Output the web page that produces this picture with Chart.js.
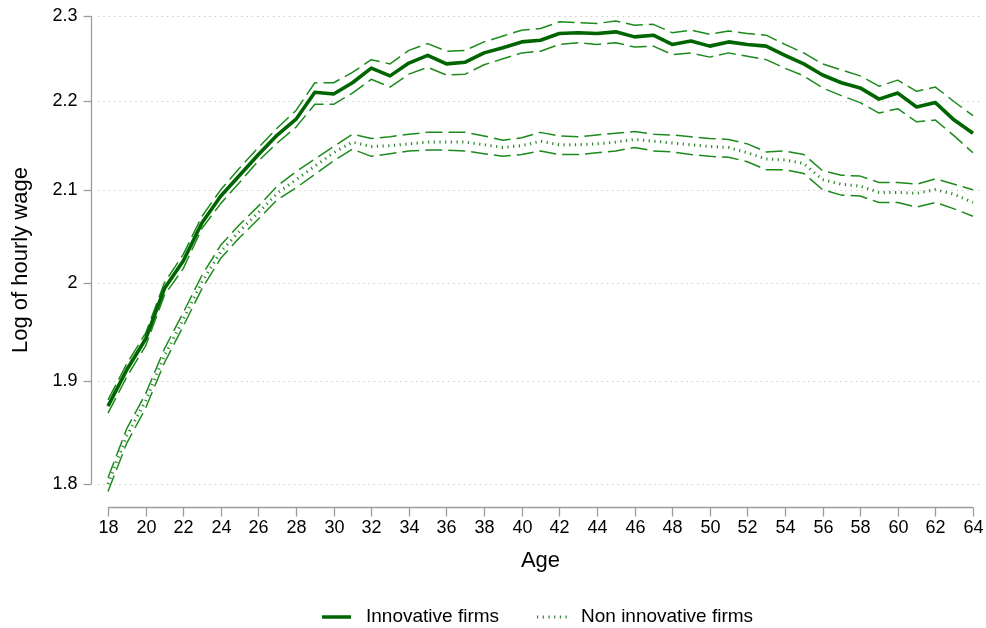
<!DOCTYPE html>
<html>
<head>
<meta charset="utf-8">
<script src="https://cdn.jsdelivr.net/npm/chart.js@4.4.1/dist/chart.umd.min.js"></script>
<style>
body { margin: 0; background: #fff; }
#wrap { width: 986px; height: 628px; }
</style>
</head>
<body>
<div id="wrap"><canvas id="wageChart" width="986" height="628"></canvas></div>
<script>
const ages = [18, 19, 20, 21, 22, 23, 24, 25, 26, 27, 28, 29, 30, 31, 32, 33, 34, 35, 36, 37, 38, 39, 40, 41,
    42, 43, 44, 45, 46, 47, 48, 49, 50, 51, 52, 53, 54, 55, 56, 57, 58, 59, 60, 61, 62, 63, 64];

// log hourly wage, innovative firms (point estimate + 95% band)
const innovMain = [1.875, 1.911, 1.942, 1.994, 2.023, 2.064, 2.093, 2.116, 2.139, 2.161,
    2.179, 2.210, 2.208, 2.221, 2.238, 2.229, 2.244, 2.253, 2.243, 2.245,
    2.256, 2.262, 2.269, 2.271, 2.279, 2.280, 2.279, 2.281, 2.275, 2.277,
    2.266, 2.270, 2.264, 2.269, 2.266, 2.264, 2.253, 2.243, 2.230, 2.221,
    2.215, 2.202, 2.209, 2.193, 2.198, 2.178, 2.163];
const innovUpper = [1.881, 1.917, 1.948, 2.000, 2.030, 2.071, 2.100, 2.124, 2.147, 2.169,
    2.189, 2.221, 2.221, 2.233, 2.248, 2.243, 2.259, 2.267, 2.258, 2.259,
    2.269, 2.276, 2.283, 2.285, 2.293, 2.292, 2.291, 2.294, 2.289, 2.290,
    2.280, 2.283, 2.278, 2.282, 2.279, 2.277, 2.266, 2.256, 2.243, 2.236,
    2.229, 2.217, 2.224, 2.211, 2.216, 2.199, 2.183];
const innovLower = [1.868, 1.904, 1.935, 1.987, 2.015, 2.058, 2.085, 2.108, 2.132, 2.152,
    2.170, 2.196, 2.196, 2.209, 2.225, 2.216, 2.231, 2.239, 2.230, 2.231,
    2.242, 2.249, 2.256, 2.258, 2.266, 2.268, 2.266, 2.268, 2.263, 2.264,
    2.254, 2.256, 2.251, 2.256, 2.252, 2.248, 2.238, 2.229, 2.215, 2.206,
    2.198, 2.186, 2.191, 2.176, 2.178, 2.160, 2.141];

// non innovative firms
const nonMain = [1.800, 1.846, 1.880, 1.925, 1.962, 2.001, 2.033, 2.055, 2.075, 2.096,
    2.111, 2.126, 2.141, 2.153, 2.148, 2.149, 2.151, 2.153, 2.153, 2.153,
    2.150, 2.147, 2.149, 2.154, 2.150, 2.150, 2.151, 2.153, 2.156, 2.154,
    2.152, 2.150, 2.148, 2.147, 2.141, 2.134, 2.133, 2.129, 2.111, 2.106,
    2.104, 2.097, 2.097, 2.096, 2.100, 2.095, 2.086];
const nonUpper = [1.806, 1.853, 1.887, 1.932, 1.969, 2.008, 2.040, 2.062, 2.082, 2.104,
    2.120, 2.134, 2.148, 2.162, 2.157, 2.159, 2.162, 2.164, 2.164, 2.164,
    2.160, 2.155, 2.158, 2.164, 2.160, 2.159, 2.161, 2.163, 2.165, 2.162,
    2.161, 2.159, 2.157, 2.156, 2.151, 2.142, 2.143, 2.139, 2.121, 2.116,
    2.115, 2.108, 2.108, 2.106, 2.112, 2.106, 2.100];
const nonLower = [1.793, 1.839, 1.873, 1.918, 1.955, 1.994, 2.026, 2.048, 2.068, 2.089,
    2.102, 2.117, 2.132, 2.145, 2.137, 2.140, 2.143, 2.144, 2.144, 2.143,
    2.140, 2.137, 2.139, 2.143, 2.139, 2.139, 2.141, 2.143, 2.147, 2.143,
    2.142, 2.139, 2.137, 2.136, 2.131, 2.122, 2.122, 2.118, 2.100, 2.094,
    2.093, 2.086, 2.086, 2.081, 2.086, 2.079, 2.071];

const xTicks = [18, 20, 22, 24, 26, 28, 30, 32, 34, 36, 38, 40, 42, 44, 46, 48, 50, 52, 54, 56, 58, 60, 62, 64];
const yTicks = [1.8, 1.9, 2.0, 2.1, 2.2, 2.3];
const yTickLabels = ['1.8', '1.9', '2', '2.1', '2.2', '2.3'];
const seriesNames = ['Innovative firms', 'Non innovative firms'];

const darkGreen = '#006400';
const bandGreen = '#1b8a1b';
const dotGreen = '#2a862a';
const axisGrey = '#9c9c9c';
const FONT = '"Liberation Sans", Arial, sans-serif';

function pts(arr) {
    return ages.map((a, i) => ({ x: a, y: arr[i] }));
}

function lineSet(label, arr, color, width, dash) {
    return {
        label: label,
        data: pts(arr),
        borderColor: color,
        backgroundColor: color,
        borderWidth: width,
        borderDash: dash,
        borderCapStyle: 'butt',
        borderJoinStyle: 'round',
        pointRadius: 0,
        tension: 0,
        fill: false,
        clip: false
    };
}

// Stata-like axes, grid and legend, drawn from the chart's own scales
const stataFrame = {
    id: 'stataFrame',
    beforeDatasetsDraw(chart) {
        const { ctx, chartArea, scales: { y } } = chart;
        ctx.save();
        ctx.strokeStyle = '#cccccc';
        ctx.lineWidth = 1.2;
        ctx.setLineDash([1.5, 3.8]);
        yTicks.forEach(v => {
            const py = Math.round(y.getPixelForValue(v)) + 0.5;
            ctx.beginPath();
            ctx.moveTo(chartArea.left - 10, py);
            ctx.lineTo(chartArea.right + 9, py);
            ctx.stroke();
        });
        ctx.restore();
    },
    afterDraw(chart) {
        const { ctx, chartArea, scales: { x, y } } = chart;
        const yAxisX = Math.round(chartArea.left - 16.6) + 0.5;
        const xAxisY = Math.round(chartArea.bottom + 23) + 0.5;
        ctx.save();
        ctx.strokeStyle = axisGrey;
        ctx.lineWidth = 1.3;
        ctx.fillStyle = '#000';

        // y axis
        ctx.beginPath();
        ctx.moveTo(yAxisX, y.getPixelForValue(2.3));
        ctx.lineTo(yAxisX, y.getPixelForValue(1.8));
        ctx.stroke();
        ctx.font = '18px ' + FONT;
        ctx.textAlign = 'right';
        ctx.textBaseline = 'middle';
        yTicks.forEach((v, i) => {
            const py = Math.round(y.getPixelForValue(v)) + 0.5;
            ctx.beginPath();
            ctx.moveTo(yAxisX - 8, py);
            ctx.lineTo(yAxisX, py);
            ctx.stroke();
            ctx.fillText(yTickLabels[i], yAxisX - 14, py);
        });

        // x axis
        ctx.beginPath();
        ctx.moveTo(x.getPixelForValue(18), xAxisY);
        ctx.lineTo(x.getPixelForValue(64), xAxisY);
        ctx.stroke();
        ctx.textAlign = 'center';
        xTicks.forEach(v => {
            const px = Math.round(x.getPixelForValue(v)) + 0.5;
            ctx.beginPath();
            ctx.moveTo(px, xAxisY);
            ctx.lineTo(px, xAxisY + 9);
            ctx.stroke();
            ctx.fillText(String(v), px, xAxisY + 21);
        });

        // axis titles
        ctx.font = '22px ' + FONT;
        ctx.fillText('Age', (x.getPixelForValue(18) + x.getPixelForValue(64)) / 2, xAxisY + 53);
        ctx.save();
        ctx.translate(21, 260);
        ctx.rotate(-Math.PI / 2);
        ctx.fillText('Log of hourly wage', 0, 0);
        ctx.restore();

        // legend
        const ly = 617;
        ctx.font = '19px ' + FONT;
        ctx.textAlign = 'left';
        ctx.strokeStyle = darkGreen;
        ctx.lineWidth = 3.5;
        ctx.beginPath();
        ctx.moveTo(322, ly);
        ctx.lineTo(351, ly);
        ctx.stroke();
        ctx.fillText(seriesNames[0], 366, ly);
        ctx.strokeStyle = dotGreen;
        ctx.lineWidth = 3;
        ctx.setLineDash([1.2, 4.5]);
        ctx.beginPath();
        ctx.moveTo(537, ly);
        ctx.lineTo(567, ly);
        ctx.stroke();
        ctx.setLineDash([]);
        ctx.fillText(seriesNames[1], 581, ly);
        ctx.restore();
    }
};

new Chart(document.getElementById('wageChart'), {
    type: 'line',
    data: {
        datasets: [
            lineSet(seriesNames[0], innovMain, darkGreen, 3.6, []),
            lineSet(seriesNames[1], nonMain, dotGreen, 3, [1.2, 4.5]),
            lineSet('Innovative upper', innovUpper, bandGreen, 1.5, [17, 6]),
            lineSet('Innovative lower', innovLower, bandGreen, 1.5, [17, 6]),
            lineSet('Non innovative upper', nonUpper, bandGreen, 1.5, [17, 6]),
            lineSet('Non innovative lower', nonLower, bandGreen, 1.5, [17, 6])
        ]
    },
    options: {
        responsive: false,
        animation: false,
        devicePixelRatio: 1,
        layout: { padding: { left: 108, right: 13, top: 16, bottom: 144 } },
        scales: {
            x: { type: 'linear', min: 18, max: 64, display: false },
            y: { type: 'logarithmic', min: 1.8, max: 2.3, display: false }
        },
        plugins: {
            legend: { display: false },
            tooltip: { enabled: false }
        }
    },
    plugins: [stataFrame]
});
</script>
</body>
</html>
